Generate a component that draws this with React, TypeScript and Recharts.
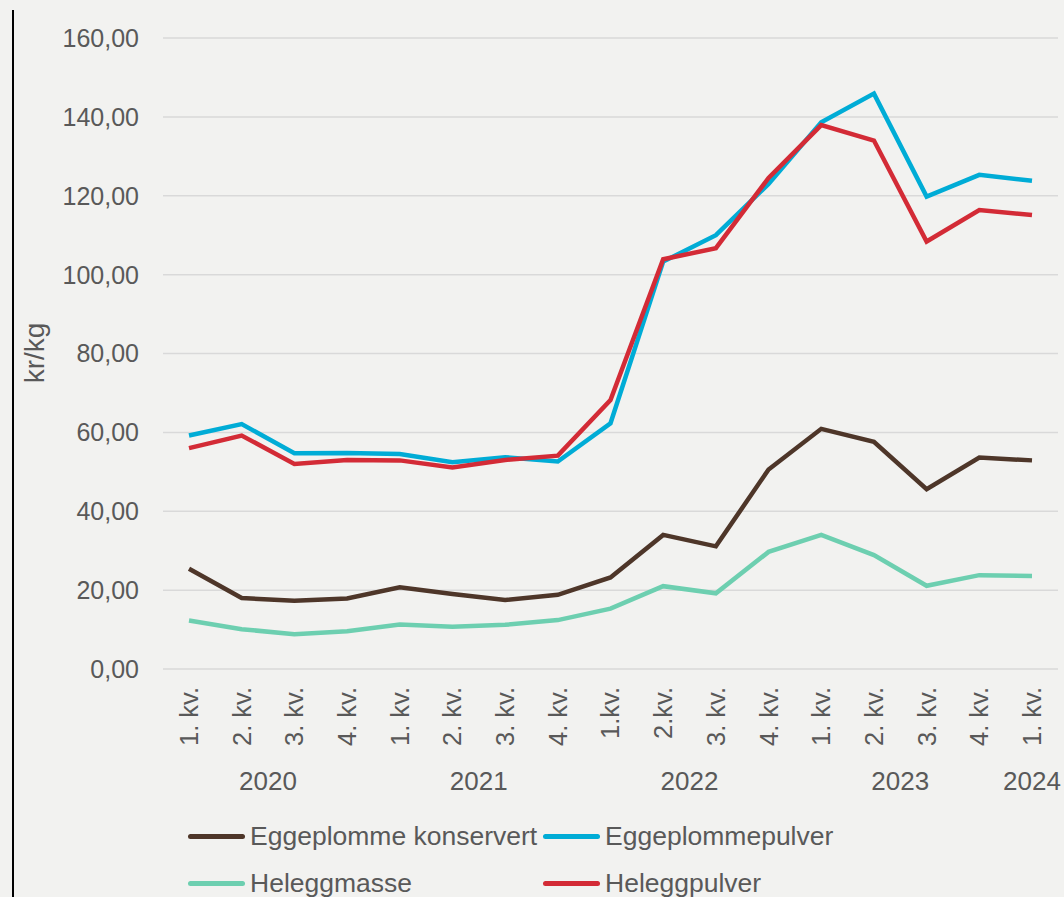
import React from 'react';
import { LineChart, Line, XAxis, YAxis, CartesianGrid, Legend } from 'recharts';

const quarterLabels = ['1. kv.', '2. kv.', '3. kv.', '4. kv.', '1. kv.', '2. kv.', '3. kv.', '4. kv.', '1.kv.', '2.kv.', '3. kv.', '4. kv.', '1. kv.', '2. kv.', '3. kv.', '4. kv.', '1. kv.'];
const yearLabels = ['2020', '2020', '2020', '2020', '2021', '2021', '2021', '2021', '2022', '2022', '2022', '2022', '2023', '2023', '2023', '2023', '2024'];

const eggeplommeKonservert = [25.4, 18.0, 17.3, 17.9, 20.7, 19.0, 17.5, 18.8, 23.2, 34.0, 31.1, 50.6, 60.9, 57.6, 45.6, 53.6, 52.9];
const eggeplommepulver = [59.2, 62.1, 54.7, 54.8, 54.5, 52.4, 53.7, 52.6, 62.3, 103.3, 110.0, 123.0, 138.6, 145.9, 119.8, 125.3, 123.8];
const heleggmasse = [12.3, 10.1, 8.8, 9.6, 11.3, 10.7, 11.2, 12.4, 15.3, 21.0, 19.2, 29.7, 34.0, 28.9, 21.1, 23.8, 23.6];
const heleggpulver = [56.0, 59.2, 52.0, 53.0, 52.9, 51.1, 53.0, 54.1, 68.2, 103.9, 106.7, 124.5, 137.9, 134.0, 108.4, 116.4, 115.1];

const yTicks = [0, 20, 40, 60, 80, 100, 120, 140, 160];

const seriesNames = ['Eggeplomme konservert', 'Eggeplommepulver', 'Heleggmasse', 'Heleggpulver'];
const seriesColors = ['#4e3629', '#00acd6', '#6dcfb0', '#d32b36'];

const data = quarterLabels.map((q, i) => ({
  key: String(i),
  quarter: q,
  year: yearLabels[i],
  [seriesNames[0]]: eggeplommeKonservert[i],
  [seriesNames[1]]: eggeplommepulver[i],
  [seriesNames[2]]: heleggmasse[i],
  [seriesNames[3]]: heleggpulver[i],
}));

const W = 1064;
const H = 897;
const FONT = '"Liberation Sans", Arial, sans-serif';
const TEXT = '#595959';
const PLOT_LEFT = 163;
const MARGIN_RIGHT = 6;
const PAD = 26;
const STEP = (W - PLOT_LEFT - MARGIN_RIGHT - 2 * PAD) / (quarterLabels.length - 1);

const XTick = (props: any) => {
  const { x, y, payload } = props;
  const i = payload.index ?? Number(payload.value);
  const q = quarterLabels[i];
  const yr = yearLabels[i];
  const first = i === 0 || yearLabels[i - 1] !== yr;
  let count = 0;
  if (first) {
    for (let j = i; j < yearLabels.length && yearLabels[j] === yr; j++) count++;
  }
  return (
    <g>
      <text
        transform={`translate(${x},${y + 10}) rotate(-90)`}
        textAnchor="end"
        dy="0.35em"
        fontSize={25.5}
        fill={TEXT}
        fontFamily={FONT}
      >
        {q}
      </text>
      {first && (
        <text
          x={x + ((count - 1) / 2) * STEP}
          y={y + 113}
          textAnchor="middle"
          fontSize={26}
          fill={TEXT}
          fontFamily={FONT}
        >
          {yr}
        </text>
      )}
    </g>
  );
};

const YLabel = () => (
  <text
    transform={`translate(44,353) rotate(-90)`}
    textAnchor="middle"
    fontSize={28}
    fill={TEXT}
    fontFamily={FONT}
  >
    kr/kg
  </text>
);

const LegendContent = () => {
  const pos = [
    { left: 188, top: 47 },
    { left: 543, top: 47 },
    { left: 188, top: 94 },
    { left: 543, top: 94 },
  ];
  return (
    <div style={{ position: 'relative', width: W, height: 108 }}>
      {seriesNames.map((n, i) => (
        <div
          key={n}
          style={{
            position: 'absolute',
            left: pos[i].left,
            top: pos[i].top,
            transform: 'translateY(-50%)',
            display: 'flex',
            alignItems: 'center',
            whiteSpace: 'nowrap',
          }}
        >
          <div style={{ width: 57, height: 5, borderRadius: 3, background: seriesColors[i], marginRight: 5 }} />
          <span style={{ fontSize: 26.5, color: TEXT, fontFamily: FONT, lineHeight: '30px' }}>{n}</span>
        </div>
      ))}
    </div>
  );
};

export default function App() {
  return (
    <div style={{ position: 'absolute', left: 0, top: 0, width: W, height: H, background: '#f2f2f0', overflow: 'hidden' }}>
      <div style={{ position: 'absolute', left: 12, top: 10, width: 2, height: H, background: '#000' }} />
      <LineChart width={W} height={H} data={data} margin={{ top: 38, right: MARGIN_RIGHT, bottom: 0, left: 0 }}>
        <CartesianGrid vertical={false} stroke="#d9d9d9" strokeWidth={1.5} />
        <XAxis
          dataKey="key"
          interval={0}
          axisLine={false}
          tickLine={false}
          height={120}
          padding={{ left: PAD, right: PAD }}
          tick={<XTick />}
        />
        <YAxis
          domain={[0, 160]}
          ticks={yTicks}
          interval={0}
          width={PLOT_LEFT}
          axisLine={false}
          tickLine={false}
          tickMargin={18}
          tickFormatter={(v: number) => v.toFixed(2).replace('.', ',')}
          tick={{ fontSize: 25, fill: TEXT, fontFamily: FONT }}
          label={<YLabel />}
        />
        <Legend verticalAlign="bottom" align="left" wrapperStyle={{ left: 0, width: W }} content={<LegendContent />} />
        {seriesNames.map((n, i) => (
          <Line
            key={n}
            type="linear"
            dataKey={n}
            stroke={seriesColors[i]}
            strokeWidth={4.5}
            dot={false}
            activeDot={false}
            isAnimationActive={false}
          />
        ))}
      </LineChart>
    </div>
  );
}
